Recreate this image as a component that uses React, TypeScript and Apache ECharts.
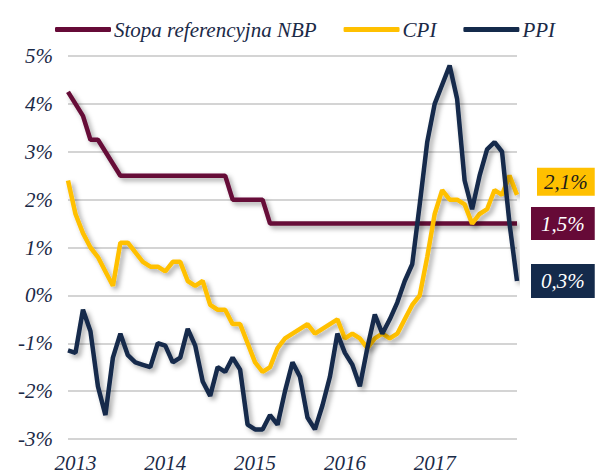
import React, { useEffect, useRef } from "react";
import * as echarts from "echarts";

// Monthly categories, Dec 2012 .. Dec 2017
const categories: string[] = [];
for (let y = 2012; y <= 2017; y++) {
  for (let m = 1; m <= 12; m++) {
    if (y === 2012 && m < 12) continue;
    categories.push(`${y}-${m < 10 ? "0" + m : m}`);
  }
}

const seriesNames = ["Stopa referencyjna NBP", "CPI", "PPI"];

const refRate = [
  4.25,
  4.0, 3.75, 3.25, 3.25, 3.0, 2.75, 2.5, 2.5, 2.5, 2.5, 2.5, 2.5,
  2.5, 2.5, 2.5, 2.5, 2.5, 2.5, 2.5, 2.5, 2.5, 2.0, 2.0, 2.0,
  2.0, 2.0, 1.5, 1.5, 1.5, 1.5, 1.5, 1.5, 1.5, 1.5, 1.5, 1.5,
  1.5, 1.5, 1.5, 1.5, 1.5, 1.5, 1.5, 1.5, 1.5, 1.5, 1.5, 1.5,
  1.5, 1.5, 1.5, 1.5, 1.5, 1.5, 1.5, 1.5, 1.5, 1.5, 1.5, 1.5,
];

const cpi = [
  2.4,
  1.7, 1.3, 1.0, 0.8, 0.5, 0.2, 1.1, 1.1, 0.9, 0.7, 0.6, 0.6,
  0.5, 0.7, 0.7, 0.3, 0.2, 0.3, -0.2, -0.3, -0.3, -0.6, -0.6, -1.0,
  -1.4, -1.6, -1.5, -1.1, -0.9, -0.8, -0.7, -0.6, -0.8, -0.7, -0.6, -0.5,
  -0.9, -0.8, -0.9, -1.1, -0.9, -0.8, -0.9, -0.8, -0.5, -0.2, 0.0, 0.8,
  1.7, 2.2, 2.0, 2.0, 1.9, 1.5, 1.7, 1.8, 2.2, 2.1, 2.5, 2.1,
];

const ppi = [
  -1.15,
  -1.2, -0.3, -0.75, -1.9, -2.5, -1.3, -0.8, -1.25, -1.4, -1.45, -1.5, -1.0,
  -1.05, -1.4, -1.3, -0.7, -1.05, -1.8, -2.1, -1.5, -1.6, -1.3, -1.55, -2.7,
  -2.8, -2.8, -2.5, -2.7, -2.0, -1.4, -1.7, -2.55, -2.8, -2.3, -1.7, -0.8,
  -1.2, -1.45, -1.9, -1.1, -0.4, -0.8, -0.5, -0.15, 0.3, 0.65, 1.9, 3.2,
  4.0, 4.4, 4.8, 4.1, 2.4, 1.8, 2.5, 3.05, 3.2, 3.0, 1.5, 0.3,
];

const yTicks = { min: -3, max: 5, interval: 1 };

const MAROON = "#660a37";
const GOLD = "#ffc000";
const NAVY = "#142a4b";
const TEXT = "#1b2a47";
const FONT = "'Liberation Serif', 'Times New Roman', serif";

const fmt = (v: number) => v.toFixed(1).replace(".", ",") + "%";

const shadow = {
  shadowColor: "rgba(0,0,0,0.35)",
  shadowBlur: 5,
  shadowOffsetX: 3,
  shadowOffsetY: 3,
};

export default function App() {
  const ref = useRef<HTMLDivElement>(null);
  useEffect(() => {
    if (!ref.current) return;
    const chart = echarts.init(ref.current, undefined, { renderer: "svg" });
    const labelBase = {
      show: true,
      fontFamily: FONT,
      fontStyle: "italic" as const,
      fontSize: 21,
      lineHeight: 21,
      formatter: (p: any) => fmt(Array.isArray(p.value) ? p.value[1] : p.value),
    };
    chart.setOption({
      animation: false,
      backgroundColor: "#ffffff",
      legend: {
        data: seriesNames,
        left: 50,
        top: 14,
        itemWidth: 56,
        itemHeight: 5,
        itemGap: 27,
        icon: "roundRect",
        textStyle: {
          fontFamily: FONT,
          fontStyle: "italic",
          fontSize: 21,
          color: TEXT,
          padding: [0, 0, 0, -2],
        },
      },
      grid: { left: 68, right: 79, top: 56, bottom: 34, containLabel: false },
      xAxis: {
        type: "category",
        data: categories,
        boundaryGap: false,
        axisLine: { show: false },
        axisTick: { show: false },
        splitLine: { show: false },
        axisLabel: {
          interval: (_i: number, v: string) => v.endsWith("-01"),
          formatter: (v: string) => v.slice(0, 4),
          fontFamily: FONT,
          fontStyle: "italic",
          fontSize: 21,
          color: TEXT,
          margin: 13,
        },
      },
      yAxis: {
        type: "value",
        min: yTicks.min,
        max: yTicks.max,
        interval: yTicks.interval,
        axisLine: { show: false },
        axisTick: { show: false },
        splitLine: { lineStyle: { color: "#c6c6c6", width: 1.5 } },
        axisLabel: {
          formatter: (v: number) => v + "%",
          fontFamily: FONT,
          fontStyle: "italic",
          fontSize: 21,
          color: TEXT,
          margin: 15,
        },
      },
      series: [
        {
          name: seriesNames[0],
          type: "line",
          data: refRate,
          symbol: "none",
          color: MAROON,
          lineStyle: { width: 4.5, color: MAROON, ...shadow },
          endLabel: {
            ...labelBase,
            color: "#ffffff",
            backgroundColor: MAROON,
            padding: [6, 10, 6, 10],
            distance: 14,
          },
          z: 2,
        },
        {
          name: seriesNames[1],
          type: "line",
          data: cpi,
          symbol: "none",
          color: GOLD,
          lineStyle: { width: 4.5, color: GOLD, ...shadow },
          endLabel: {
            ...labelBase,
            color: "#1a1a1a",
            backgroundColor: GOLD,
            padding: [4, 7, 3, 7],
            distance: 20,
            offset: [0, -13],
          },
          z: 3,
        },
        {
          name: seriesNames[2],
          type: "line",
          data: ppi,
          symbol: "none",
          color: NAVY,
          lineStyle: { width: 4.5, color: NAVY, ...shadow },
          endLabel: {
            ...labelBase,
            color: "#ffffff",
            backgroundColor: NAVY,
            padding: [6, 10, 7, 10],
            distance: 14,
          },
          z: 4,
        },
      ],
    });
    return () => chart.dispose();
  }, []);
  return (
    <div
      ref={ref}
      style={{ position: "fixed", left: 0, top: 0, width: 596, height: 473 }}
    />
  );
}
